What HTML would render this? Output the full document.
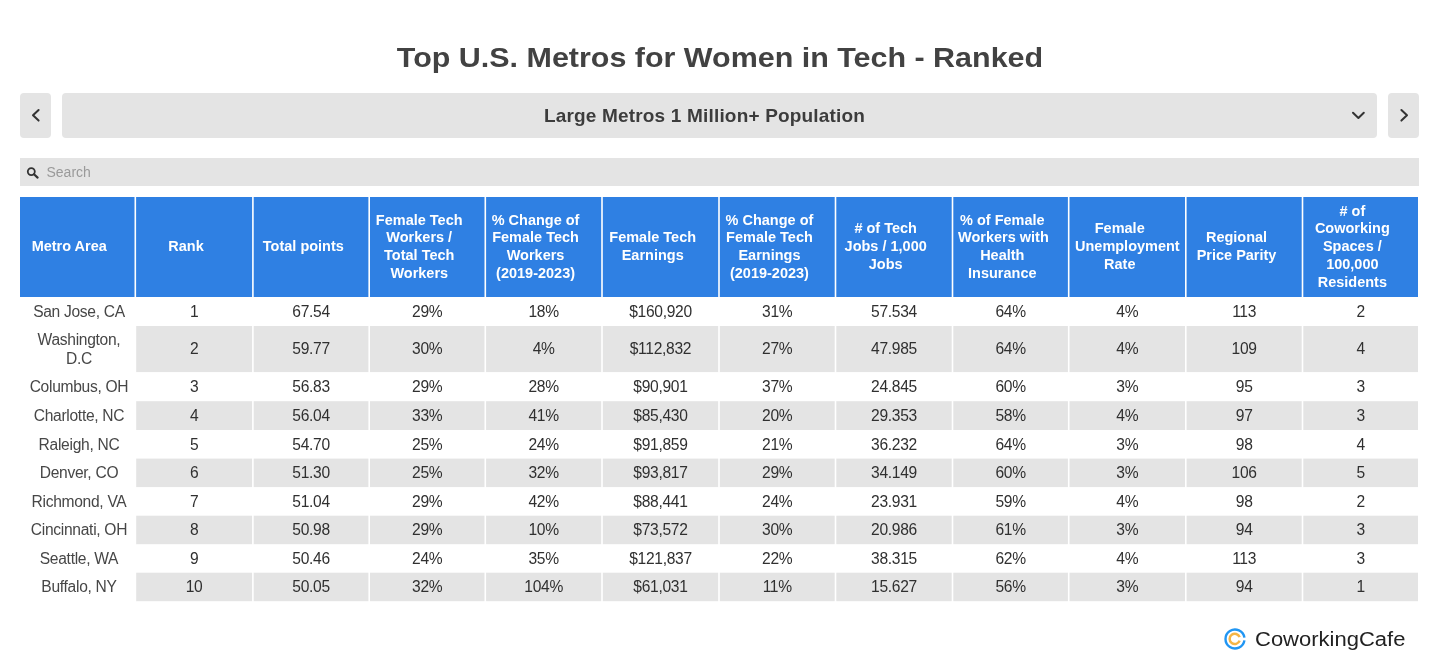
<!DOCTYPE html>
<html><head><meta charset="utf-8">
<style>
html,body{margin:0;padding:0;background:#fff;}
body{width:1440px;height:670px;position:relative;overflow:hidden;font-family:"Liberation Sans",sans-serif;-webkit-font-smoothing:antialiased;}
.wrap{position:absolute;left:0;top:0;width:1440px;height:670px;will-change:transform;}
.title{position:absolute;left:0;width:1440px;top:39.5px;transform:scaleX(1.0875);transform-origin:720px 0;text-align:center;font-weight:bold;font-size:28px;line-height:36px;color:#424242;white-space:nowrap;}
.btn{position:absolute;top:93px;height:44.5px;background:#e4e4e4;border-radius:4px;}
.dd-text{position:absolute;left:62px;width:1285px;top:94px;height:44.5px;line-height:44.5px;text-align:center;font-weight:bold;font-size:19px;color:#3c3c3c;letter-spacing:0.18px;white-space:nowrap;}
.search{position:absolute;left:20px;top:158px;width:1399px;height:28px;background:#e4e4e4;}
.search-t{position:absolute;left:46.5px;top:158px;height:28px;line-height:28px;font-size:14px;color:#9a9a9a;}
.bg{position:absolute;left:0;top:0;}
.hc{position:absolute;top:197px;height:100px;display:flex;align-items:center;}
.ht{color:#fff;font-weight:bold;font-size:15.5px;line-height:17.75px;text-align:center;white-space:nowrap;flex-shrink:0;box-sizing:border-box;padding:0 22.46px 0 5.35px;transform:scaleX(0.935);transform-origin:0 50%;margin-top:-2px;}
.bc{position:absolute;display:flex;align-items:center;justify-content:center;font-size:15.6px;line-height:18.6px;letter-spacing:-0.3px;color:#303030;text-align:center;white-space:nowrap;box-sizing:border-box;padding-top:1px;}
.bc.g{background:#e4e4e4;}
.bc.c0{color:#474747;padding-left:3.5px;}
.logo-t{position:absolute;left:1255px;top:627px;font-size:20px;line-height:24px;color:#222;transform:scaleX(1.1);transform-origin:0 0;white-space:nowrap;}
</style></head><body><div class="wrap">
<div class="title">Top U.S. Metros for Women in Tech - Ranked</div>
<div class="btn" style="left:20px;width:30.5px"></div>
<div class="btn" style="left:62px;width:1315px"></div>
<div class="btn" style="left:1388px;width:31px"></div>
<div class="dd-text">Large Metros 1 Million+ Population</div>
<svg style="position:absolute;left:0;top:0" width="1440" height="200" viewBox="0 0 1440 200">
 <g fill="none" stroke="#333" stroke-width="2" stroke-linecap="round" stroke-linejoin="round">
 <polyline points="38.6,110 33,115.3 38.6,120.6"/>
 <polyline points="1353,112.7 1358.4,118 1363.8,112.7"/>
 <polyline points="1401.4,110 1407,115.3 1401.4,120.6"/>
 </g>
</svg>
<div class="search"></div>
<svg style="position:absolute;left:0;top:150px" width="60" height="40" viewBox="0 150 60 40">
 <circle cx="31.3" cy="171.6" r="3.5" fill="none" stroke="#333" stroke-width="1.8"/>
 <line x1="34" y1="174.3" x2="37.6" y2="177.6" stroke="#333" stroke-width="2.2" stroke-linecap="round"/>
</svg>
<div class="search-t">Search</div>
<svg class="bg" width="1440" height="670" viewBox="0 0 1440 670"><rect x="20" y="197" width="1398" height="100" fill="#2f80e3"/><rect x="136.1" y="326" width="1281.9" height="46.1" fill="#e4e4e4"/><rect x="136.1" y="401.2" width="1281.9" height="28.8" fill="#e4e4e4"/><rect x="136.1" y="458.6" width="1281.9" height="28.5" fill="#e4e4e4"/><rect x="136.1" y="515.7" width="1281.9" height="28.5" fill="#e4e4e4"/><rect x="136.1" y="572.7" width="1281.9" height="28.5" fill="#e4e4e4"/><rect x="134.5" y="197" width="1.6" height="405.2" fill="#fff"/><rect x="252.1" y="197" width="1.6" height="405.2" fill="#fff"/><rect x="368.4" y="197" width="1.6" height="405.2" fill="#fff"/><rect x="484.5" y="197" width="1.6" height="405.2" fill="#fff"/><rect x="601.2" y="197" width="1.6" height="405.2" fill="#fff"/><rect x="718.2" y="197" width="1.6" height="405.2" fill="#fff"/><rect x="834.7" y="197" width="1.6" height="405.2" fill="#fff"/><rect x="951.7" y="197" width="1.6" height="405.2" fill="#fff"/><rect x="1067.9" y="197" width="1.6" height="405.2" fill="#fff"/><rect x="1185" y="197" width="1.6" height="405.2" fill="#fff"/><rect x="1301.7" y="197" width="1.6" height="405.2" fill="#fff"/></svg>
<div class="hc" style="left:20px;width:114.5px"><div class="ht" style="width:122.46px">Metro Area</div></div>
<div class="hc" style="left:136.1px;width:116px"><div class="ht" style="width:124.06px">Rank</div></div>
<div class="hc" style="left:253.7px;width:114.7px"><div class="ht" style="width:122.67px">Total points</div></div>
<div class="hc" style="left:370px;width:114.5px"><div class="ht" style="width:122.46px">Female Tech<br>Workers /<br>Total Tech<br>Workers</div></div>
<div class="hc" style="left:486.1px;width:115.1px"><div class="ht" style="width:123.1px">% Change of<br>Female Tech<br>Workers<br>(2019-2023)</div></div>
<div class="hc" style="left:602.8px;width:115.4px"><div class="ht" style="width:123.42px">Female Tech<br>Earnings</div></div>
<div class="hc" style="left:719.8px;width:114.9px"><div class="ht" style="width:122.89px">% Change of<br>Female Tech<br>Earnings<br>(2019-2023)</div></div>
<div class="hc" style="left:836.3px;width:115.4px"><div class="ht" style="width:123.42px"># of Tech<br>Jobs / 1,000<br>Jobs</div></div>
<div class="hc" style="left:953.3px;width:114.6px"><div class="ht" style="width:122.57px">% of Female<br>Workers with<br>Health<br>Insurance</div></div>
<div class="hc" style="left:1069.5px;width:115.5px"><div class="ht" style="width:123.53px">Female<br>Unemployment<br>Rate</div></div>
<div class="hc" style="left:1186.6px;width:115.1px"><div class="ht" style="width:123.1px">Regional<br>Price Parity</div></div>
<div class="hc" style="left:1303.3px;width:114.7px"><div class="ht" style="width:122.67px"># of<br>Coworking<br>Spaces /<br>100,000<br>Residents</div></div>
<div class="bc c0" style="left:20px;top:297px;width:114.5px;height:29px"><span>San Jose, CA</span></div>
<div class="bc" style="left:136.1px;top:297px;width:116px;height:29px"><span>1</span></div>
<div class="bc" style="left:253.7px;top:297px;width:114.7px;height:29px"><span>67.54</span></div>
<div class="bc" style="left:370px;top:297px;width:114.5px;height:29px"><span>29%</span></div>
<div class="bc" style="left:486.1px;top:297px;width:115.1px;height:29px"><span>18%</span></div>
<div class="bc" style="left:602.8px;top:297px;width:115.4px;height:29px"><span>$160,920</span></div>
<div class="bc" style="left:719.8px;top:297px;width:114.9px;height:29px"><span>31%</span></div>
<div class="bc" style="left:836.3px;top:297px;width:115.4px;height:29px"><span>57.534</span></div>
<div class="bc" style="left:953.3px;top:297px;width:114.6px;height:29px"><span>64%</span></div>
<div class="bc" style="left:1069.5px;top:297px;width:115.5px;height:29px"><span>4%</span></div>
<div class="bc" style="left:1186.6px;top:297px;width:115.1px;height:29px"><span>113</span></div>
<div class="bc" style="left:1303.3px;top:297px;width:114.7px;height:29px"><span>2</span></div>
<div class="bc c0" style="left:20px;top:326px;width:114.5px;height:46.1px"><span>Washington,<br>D.C</span></div>
<div class="bc" style="left:136.1px;top:326px;width:116px;height:46.1px"><span>2</span></div>
<div class="bc" style="left:253.7px;top:326px;width:114.7px;height:46.1px"><span>59.77</span></div>
<div class="bc" style="left:370px;top:326px;width:114.5px;height:46.1px"><span>30%</span></div>
<div class="bc" style="left:486.1px;top:326px;width:115.1px;height:46.1px"><span>4%</span></div>
<div class="bc" style="left:602.8px;top:326px;width:115.4px;height:46.1px"><span>$112,832</span></div>
<div class="bc" style="left:719.8px;top:326px;width:114.9px;height:46.1px"><span>27%</span></div>
<div class="bc" style="left:836.3px;top:326px;width:115.4px;height:46.1px"><span>47.985</span></div>
<div class="bc" style="left:953.3px;top:326px;width:114.6px;height:46.1px"><span>64%</span></div>
<div class="bc" style="left:1069.5px;top:326px;width:115.5px;height:46.1px"><span>4%</span></div>
<div class="bc" style="left:1186.6px;top:326px;width:115.1px;height:46.1px"><span>109</span></div>
<div class="bc" style="left:1303.3px;top:326px;width:114.7px;height:46.1px"><span>4</span></div>
<div class="bc c0" style="left:20px;top:372.1px;width:114.5px;height:29.1px"><span>Columbus, OH</span></div>
<div class="bc" style="left:136.1px;top:372.1px;width:116px;height:29.1px"><span>3</span></div>
<div class="bc" style="left:253.7px;top:372.1px;width:114.7px;height:29.1px"><span>56.83</span></div>
<div class="bc" style="left:370px;top:372.1px;width:114.5px;height:29.1px"><span>29%</span></div>
<div class="bc" style="left:486.1px;top:372.1px;width:115.1px;height:29.1px"><span>28%</span></div>
<div class="bc" style="left:602.8px;top:372.1px;width:115.4px;height:29.1px"><span>$90,901</span></div>
<div class="bc" style="left:719.8px;top:372.1px;width:114.9px;height:29.1px"><span>37%</span></div>
<div class="bc" style="left:836.3px;top:372.1px;width:115.4px;height:29.1px"><span>24.845</span></div>
<div class="bc" style="left:953.3px;top:372.1px;width:114.6px;height:29.1px"><span>60%</span></div>
<div class="bc" style="left:1069.5px;top:372.1px;width:115.5px;height:29.1px"><span>3%</span></div>
<div class="bc" style="left:1186.6px;top:372.1px;width:115.1px;height:29.1px"><span>95</span></div>
<div class="bc" style="left:1303.3px;top:372.1px;width:114.7px;height:29.1px"><span>3</span></div>
<div class="bc c0" style="left:20px;top:401.2px;width:114.5px;height:28.8px"><span>Charlotte, NC</span></div>
<div class="bc" style="left:136.1px;top:401.2px;width:116px;height:28.8px"><span>4</span></div>
<div class="bc" style="left:253.7px;top:401.2px;width:114.7px;height:28.8px"><span>56.04</span></div>
<div class="bc" style="left:370px;top:401.2px;width:114.5px;height:28.8px"><span>33%</span></div>
<div class="bc" style="left:486.1px;top:401.2px;width:115.1px;height:28.8px"><span>41%</span></div>
<div class="bc" style="left:602.8px;top:401.2px;width:115.4px;height:28.8px"><span>$85,430</span></div>
<div class="bc" style="left:719.8px;top:401.2px;width:114.9px;height:28.8px"><span>20%</span></div>
<div class="bc" style="left:836.3px;top:401.2px;width:115.4px;height:28.8px"><span>29.353</span></div>
<div class="bc" style="left:953.3px;top:401.2px;width:114.6px;height:28.8px"><span>58%</span></div>
<div class="bc" style="left:1069.5px;top:401.2px;width:115.5px;height:28.8px"><span>4%</span></div>
<div class="bc" style="left:1186.6px;top:401.2px;width:115.1px;height:28.8px"><span>97</span></div>
<div class="bc" style="left:1303.3px;top:401.2px;width:114.7px;height:28.8px"><span>3</span></div>
<div class="bc c0" style="left:20px;top:430px;width:114.5px;height:28.6px"><span>Raleigh, NC</span></div>
<div class="bc" style="left:136.1px;top:430px;width:116px;height:28.6px"><span>5</span></div>
<div class="bc" style="left:253.7px;top:430px;width:114.7px;height:28.6px"><span>54.70</span></div>
<div class="bc" style="left:370px;top:430px;width:114.5px;height:28.6px"><span>25%</span></div>
<div class="bc" style="left:486.1px;top:430px;width:115.1px;height:28.6px"><span>24%</span></div>
<div class="bc" style="left:602.8px;top:430px;width:115.4px;height:28.6px"><span>$91,859</span></div>
<div class="bc" style="left:719.8px;top:430px;width:114.9px;height:28.6px"><span>21%</span></div>
<div class="bc" style="left:836.3px;top:430px;width:115.4px;height:28.6px"><span>36.232</span></div>
<div class="bc" style="left:953.3px;top:430px;width:114.6px;height:28.6px"><span>64%</span></div>
<div class="bc" style="left:1069.5px;top:430px;width:115.5px;height:28.6px"><span>3%</span></div>
<div class="bc" style="left:1186.6px;top:430px;width:115.1px;height:28.6px"><span>98</span></div>
<div class="bc" style="left:1303.3px;top:430px;width:114.7px;height:28.6px"><span>4</span></div>
<div class="bc c0" style="left:20px;top:458.6px;width:114.5px;height:28.5px"><span>Denver, CO</span></div>
<div class="bc" style="left:136.1px;top:458.6px;width:116px;height:28.5px"><span>6</span></div>
<div class="bc" style="left:253.7px;top:458.6px;width:114.7px;height:28.5px"><span>51.30</span></div>
<div class="bc" style="left:370px;top:458.6px;width:114.5px;height:28.5px"><span>25%</span></div>
<div class="bc" style="left:486.1px;top:458.6px;width:115.1px;height:28.5px"><span>32%</span></div>
<div class="bc" style="left:602.8px;top:458.6px;width:115.4px;height:28.5px"><span>$93,817</span></div>
<div class="bc" style="left:719.8px;top:458.6px;width:114.9px;height:28.5px"><span>29%</span></div>
<div class="bc" style="left:836.3px;top:458.6px;width:115.4px;height:28.5px"><span>34.149</span></div>
<div class="bc" style="left:953.3px;top:458.6px;width:114.6px;height:28.5px"><span>60%</span></div>
<div class="bc" style="left:1069.5px;top:458.6px;width:115.5px;height:28.5px"><span>3%</span></div>
<div class="bc" style="left:1186.6px;top:458.6px;width:115.1px;height:28.5px"><span>106</span></div>
<div class="bc" style="left:1303.3px;top:458.6px;width:114.7px;height:28.5px"><span>5</span></div>
<div class="bc c0" style="left:20px;top:487.1px;width:114.5px;height:28.6px"><span>Richmond, VA</span></div>
<div class="bc" style="left:136.1px;top:487.1px;width:116px;height:28.6px"><span>7</span></div>
<div class="bc" style="left:253.7px;top:487.1px;width:114.7px;height:28.6px"><span>51.04</span></div>
<div class="bc" style="left:370px;top:487.1px;width:114.5px;height:28.6px"><span>29%</span></div>
<div class="bc" style="left:486.1px;top:487.1px;width:115.1px;height:28.6px"><span>42%</span></div>
<div class="bc" style="left:602.8px;top:487.1px;width:115.4px;height:28.6px"><span>$88,441</span></div>
<div class="bc" style="left:719.8px;top:487.1px;width:114.9px;height:28.6px"><span>24%</span></div>
<div class="bc" style="left:836.3px;top:487.1px;width:115.4px;height:28.6px"><span>23.931</span></div>
<div class="bc" style="left:953.3px;top:487.1px;width:114.6px;height:28.6px"><span>59%</span></div>
<div class="bc" style="left:1069.5px;top:487.1px;width:115.5px;height:28.6px"><span>4%</span></div>
<div class="bc" style="left:1186.6px;top:487.1px;width:115.1px;height:28.6px"><span>98</span></div>
<div class="bc" style="left:1303.3px;top:487.1px;width:114.7px;height:28.6px"><span>2</span></div>
<div class="bc c0" style="left:20px;top:515.7px;width:114.5px;height:28.5px"><span>Cincinnati, OH</span></div>
<div class="bc" style="left:136.1px;top:515.7px;width:116px;height:28.5px"><span>8</span></div>
<div class="bc" style="left:253.7px;top:515.7px;width:114.7px;height:28.5px"><span>50.98</span></div>
<div class="bc" style="left:370px;top:515.7px;width:114.5px;height:28.5px"><span>29%</span></div>
<div class="bc" style="left:486.1px;top:515.7px;width:115.1px;height:28.5px"><span>10%</span></div>
<div class="bc" style="left:602.8px;top:515.7px;width:115.4px;height:28.5px"><span>$73,572</span></div>
<div class="bc" style="left:719.8px;top:515.7px;width:114.9px;height:28.5px"><span>30%</span></div>
<div class="bc" style="left:836.3px;top:515.7px;width:115.4px;height:28.5px"><span>20.986</span></div>
<div class="bc" style="left:953.3px;top:515.7px;width:114.6px;height:28.5px"><span>61%</span></div>
<div class="bc" style="left:1069.5px;top:515.7px;width:115.5px;height:28.5px"><span>3%</span></div>
<div class="bc" style="left:1186.6px;top:515.7px;width:115.1px;height:28.5px"><span>94</span></div>
<div class="bc" style="left:1303.3px;top:515.7px;width:114.7px;height:28.5px"><span>3</span></div>
<div class="bc c0" style="left:20px;top:544.2px;width:114.5px;height:28.5px"><span>Seattle, WA</span></div>
<div class="bc" style="left:136.1px;top:544.2px;width:116px;height:28.5px"><span>9</span></div>
<div class="bc" style="left:253.7px;top:544.2px;width:114.7px;height:28.5px"><span>50.46</span></div>
<div class="bc" style="left:370px;top:544.2px;width:114.5px;height:28.5px"><span>24%</span></div>
<div class="bc" style="left:486.1px;top:544.2px;width:115.1px;height:28.5px"><span>35%</span></div>
<div class="bc" style="left:602.8px;top:544.2px;width:115.4px;height:28.5px"><span>$121,837</span></div>
<div class="bc" style="left:719.8px;top:544.2px;width:114.9px;height:28.5px"><span>22%</span></div>
<div class="bc" style="left:836.3px;top:544.2px;width:115.4px;height:28.5px"><span>38.315</span></div>
<div class="bc" style="left:953.3px;top:544.2px;width:114.6px;height:28.5px"><span>62%</span></div>
<div class="bc" style="left:1069.5px;top:544.2px;width:115.5px;height:28.5px"><span>4%</span></div>
<div class="bc" style="left:1186.6px;top:544.2px;width:115.1px;height:28.5px"><span>113</span></div>
<div class="bc" style="left:1303.3px;top:544.2px;width:114.7px;height:28.5px"><span>3</span></div>
<div class="bc c0" style="left:20px;top:572.7px;width:114.5px;height:28.5px"><span>Buffalo, NY</span></div>
<div class="bc" style="left:136.1px;top:572.7px;width:116px;height:28.5px"><span>10</span></div>
<div class="bc" style="left:253.7px;top:572.7px;width:114.7px;height:28.5px"><span>50.05</span></div>
<div class="bc" style="left:370px;top:572.7px;width:114.5px;height:28.5px"><span>32%</span></div>
<div class="bc" style="left:486.1px;top:572.7px;width:115.1px;height:28.5px"><span>104%</span></div>
<div class="bc" style="left:602.8px;top:572.7px;width:115.4px;height:28.5px"><span>$61,031</span></div>
<div class="bc" style="left:719.8px;top:572.7px;width:114.9px;height:28.5px"><span>11%</span></div>
<div class="bc" style="left:836.3px;top:572.7px;width:115.4px;height:28.5px"><span>15.627</span></div>
<div class="bc" style="left:953.3px;top:572.7px;width:114.6px;height:28.5px"><span>56%</span></div>
<div class="bc" style="left:1069.5px;top:572.7px;width:115.5px;height:28.5px"><span>3%</span></div>
<div class="bc" style="left:1186.6px;top:572.7px;width:115.1px;height:28.5px"><span>94</span></div>
<div class="bc" style="left:1303.3px;top:572.7px;width:114.7px;height:28.5px"><span>1</span></div>
<svg style="position:absolute;left:1220px;top:624px" width="30" height="30" viewBox="1220 624 30 30">
 <path d="M 1244.41 637.68 A 9.5 9.5 0 1 0 1244.41 640.32" fill="none" stroke="#2196f3" stroke-width="2.4"/>
 <path d="M 1239.64 637.14 A 5.15 5.15 0 1 0 1239.64 640.66" fill="none" stroke="#f5b546" stroke-width="2.5"/>
</svg>
<div class="logo-t">CoworkingCafe</div>
</div></body></html>
